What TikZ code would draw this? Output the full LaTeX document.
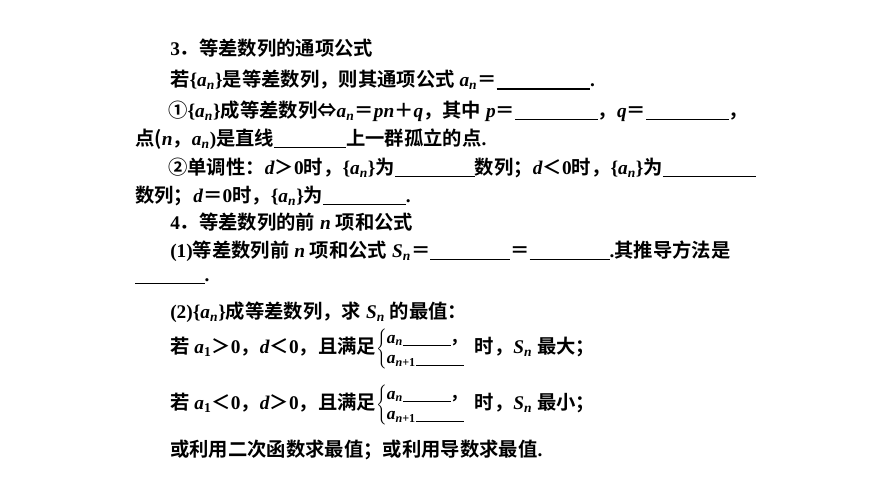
\documentclass[tikz,border=0pt]{standalone}
\usepackage{fontspec}
\setmainfont{Liberation Serif}[UprightFont=* Bold, ItalicFont=* Bold Italic]
\newfontfamily\cjk{Noto Sans CJK SC Bold}
\usetikzlibrary{positioning}

\newcommand{\zh}[1]{{\cjk #1}}
\newcommand{\I}[1]{\textit{#1}}
\newcommand{\an}{\I{a}\textsubscript{\I{n}}}
\newcommand{\blank}[1]{\rule[-2pt]{#1}{0.9pt}}
\newcommand{\condpair}{$\left\{\begin{tabular}{@{}l@{}}\fontsize{13pt}{14pt}\selectfont\an\blank{36pt}\zh{，}\\[-2pt]\fontsize{13pt}{14pt}\selectfont\I{a}\textsubscript{\I{n}+1}\blank{36pt}\end{tabular}\right.$}

\begin{document}
\begin{tikzpicture}[
  x=0.75pt, y=-0.75pt,
  line/.style={anchor=west, inner sep=0pt, font=\fontsize{14.5pt}{17pt}\selectfont}
]
  % frame
  \useasboundingbox (0,0) rectangle (870,489);

  % section 3
  \node (l1) [line] at (170,48) {3\zh{．等差数列的通项公式}};
  \node (l2) [line] at (170,80) {\zh{若}\{\an\}\zh{是等差数列，则其通项公式} \an\zh{＝}\blank{70pt}.};
  \node (l3) [line] at (168,111) {\zh{①}\{\an\}\zh{成等差数列⇔}\an\zh{＝}\I{pn}\zh{＋}\I{q}\zh{，其中} \I{p}\zh{＝}\blank{62pt}\zh{，}\I{q}\zh{＝}\blank{62pt}\zh{，}};
  \node (l4) [line] at (135,139) {\zh{点(}\I{n}\zh{，}\an)\zh{是直线}\blank{54pt}\zh{上一群孤立的点}.};
  \node (l5) [line] at (168,168) {\zh{②单调性：}\I{d}\zh{＞}0\zh{时，}\{\an\}\zh{为}\blank{60pt}\zh{数列；}\I{d}\zh{＜}0\zh{时，}\{\an\}\zh{为}\blank{70pt}};
  \node (l6) [line] at (135,196) {\zh{数列；}\I{d}\zh{＝}0\zh{时，}\{\an\}\zh{为}\blank{62pt}.};

  % section 4
  \node (l7) [line] at (170,222) {4\zh{．等差数列的前} \I{n} \zh{项和公式}};
  \node (l8) [line] at (170,251) {(1)\zh{等差数列前} \I{n} \zh{项和公式} \I{S}\textsubscript{\I{n}}\zh{＝}\blank{60pt}\zh{＝}\blank{60pt}.\zh{其推导方法是}};
  \node (l9) [line] at (135,281) {\blank{52pt}.};
  \node (l10) [line] at (170,312) {(2)\{\an\}\zh{成等差数列，求} \I{S}\textsubscript{\I{n}} \zh{的最值：}};
  \node (l11) [line] at (170,349) {\zh{若} \I{a}\textsubscript{1}\zh{＞}0\zh{，}\I{d}\zh{＜}0\zh{，且满足}\condpair{} \zh{时，}\I{S}\textsubscript{\I{n}} \zh{最大；}};
  \node (l12) [line] at (170,405) {\zh{若} \I{a}\textsubscript{1}\zh{＜}0\zh{，}\I{d}\zh{＞}0\zh{，且满足}\condpair{} \zh{时，}\I{S}\textsubscript{\I{n}} \zh{最小；}};
  \node (l13) [line] at (170,450) {\zh{或利用二次函数求最值；或利用导数求最值}.};
\end{tikzpicture}
\end{document}
